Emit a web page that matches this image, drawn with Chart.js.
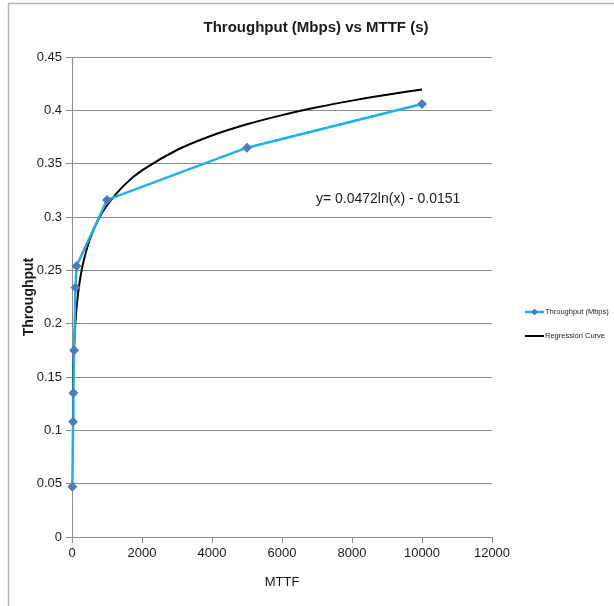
<!DOCTYPE html>
<html>
<head>
<meta charset="utf-8">
<script src="https://cdn.jsdelivr.net/npm/chart.js@4"></script>
<style>
  body { margin: 0; background: #fff; }
  canvas { display: block; }
</style>
</head>
<body>
<canvas id="chart" width="614" height="606"></canvas>
<script>
// values
const mttf = [10, 30, 40, 60, 100, 130, 1000, 5000, 10000];
const throughput = [0.047, 0.108, 0.135, 0.175, 0.234, 0.254, 0.316, 0.365, 0.406];

// regression curve y = 0.0472ln(x) - 0.0151, sampled by hand
const curveX = [10, 15, 20, 30, 50, 75, 100, 150, 200, 300, 500, 750, 1000, 1500, 2000, 3000, 4000, 5000, 6000, 7000, 8000, 9000, 10000];
const curveY = [0.0936, 0.1127, 0.1263, 0.1454, 0.1695, 0.1887, 0.2023, 0.2214, 0.2350, 0.2541, 0.2782, 0.2974, 0.3109, 0.3301, 0.3437, 0.3628, 0.3764, 0.3869, 0.3955, 0.4028, 0.4091, 0.4147, 0.4196];

const seriesNames = ['Throughput (Mbps)', 'Regression Curve'];
const chartTitle = 'Throughput (Mbps) vs MTTF (s)';
const equation = 'y= 0.0472ln(x) - 0.0151';

const FONT = '"Liberation Sans", Arial, sans-serif';
const GRID = '#8c8c8c';
const TEXT = '#1a1a1a';
const BLUE_LINE = '#1cb0ec';
const BLUE_MARK = '#4a7ebb';

const extras = {
  id: 'extras',
  beforeDraw(chart) {
    const ctx = chart.ctx;
    ctx.save();
    ctx.fillStyle = '#fff';
    ctx.fillRect(0, 0, chart.width, chart.height);
    ctx.strokeStyle = '#b4b4b4';
    ctx.lineWidth = 1.5;
    ctx.beginPath();
    ctx.moveTo(8.5, chart.height);
    ctx.lineTo(8.5, 3.5);
    ctx.lineTo(chart.width, 3.5);
    ctx.stroke();
    ctx.restore();
  },
  afterDraw(chart) {
    const ctx = chart.ctx;
    const { x, y } = chart.scales;
    ctx.save();
    ctx.fillStyle = TEXT;
    ctx.textBaseline = 'middle';

    ctx.font = 'bold 15px ' + FONT;
    ctx.textAlign = 'center';
    ctx.fillText(chartTitle, 316, 28);

    ctx.font = '14px ' + FONT;
    ctx.textAlign = 'left';
    ctx.fillText(equation, x.getPixelForValue(6970), y.getPixelForValue(0.317));

    // legend
    const lx = 525;
    ctx.lineWidth = 2.5;
    ctx.strokeStyle = BLUE_LINE;
    ctx.beginPath();
    ctx.moveTo(lx, 312);
    ctx.lineTo(lx + 19, 312);
    ctx.stroke();
    ctx.fillStyle = BLUE_MARK;
    ctx.beginPath();
    ctx.moveTo(lx + 9.5, 308.5);
    ctx.lineTo(lx + 13, 312);
    ctx.lineTo(lx + 9.5, 315.5);
    ctx.lineTo(lx + 6, 312);
    ctx.closePath();
    ctx.fill();
    ctx.strokeStyle = '#000';
    ctx.lineWidth = 2;
    ctx.beginPath();
    ctx.moveTo(lx, 336);
    ctx.lineTo(lx + 19, 336);
    ctx.stroke();
    ctx.fillStyle = TEXT;
    ctx.font = '7.5px ' + FONT;
    ctx.fillText(seriesNames[0], lx + 20, 312);
    ctx.fillText(seriesNames[1], lx + 20, 336);
    ctx.restore();
  }
};

new Chart(document.getElementById('chart'), {
  type: 'scatter',
  data: {
    datasets: [
      {
        label: seriesNames[0],
        data: mttf.map((v, i) => ({ x: v, y: throughput[i] })),
        showLine: true,
        clip: 8,
        borderColor: BLUE_LINE,
        borderWidth: 2.5,
        pointStyle: 'rectRot',
        pointRadius: 5,
        pointBackgroundColor: BLUE_MARK,
        pointBorderColor: BLUE_MARK,
        pointBorderWidth: 0,
        order: 0
      },
      {
        label: seriesNames[1],
        data: curveX.map((v, i) => ({ x: v, y: curveY[i] })),
        showLine: true,
        borderColor: '#000',
        borderWidth: 2,
        pointRadius: 0,
        tension: 0.3,
        order: 1
      }
    ]
  },
  options: {
    responsive: false,
    animation: false,
    layout: { padding: { left: 0, right: 122, top: 57, bottom: 0 } },
    plugins: {
      legend: { display: false },
      tooltip: { enabled: false }
    },
    scales: {
      x: {
        type: 'linear',
        min: 0,
        max: 12000,
        afterFit: (s) => { s.height = 69; },
        grid: { drawOnChartArea: false, color: GRID, tickLength: 6 },
        border: { color: GRID },
        ticks: {
          stepSize: 2000,
          color: TEXT,
          padding: 3,
          font: { family: FONT, size: 13 },
          callback: (v) => String(v)
        },
        title: {
          display: true,
          text: 'MTTF',
          color: TEXT,
          font: { family: FONT, size: 13 },
          padding: { top: 16, bottom: 16 }
        }
      },
      y: {
        min: 0,
        max: 0.45,
        afterFit: (s) => { s.width = 72; },
        grid: { color: GRID, tickLength: 6 },
        border: { color: GRID },
        ticks: {
          stepSize: 0.05,
          color: TEXT,
          padding: 4,
          font: { family: FONT, size: 13 },
          callback: (v) => String(+v.toFixed(2))
        },
        title: {
          display: true,
          text: 'Throughput',
          color: TEXT,
          font: { family: FONT, size: 14, weight: 'bold' },
          padding: { top: 21, bottom: 21 }
        }
      }
    }
  },
  plugins: [extras]
});
</script>
</body>
</html>
